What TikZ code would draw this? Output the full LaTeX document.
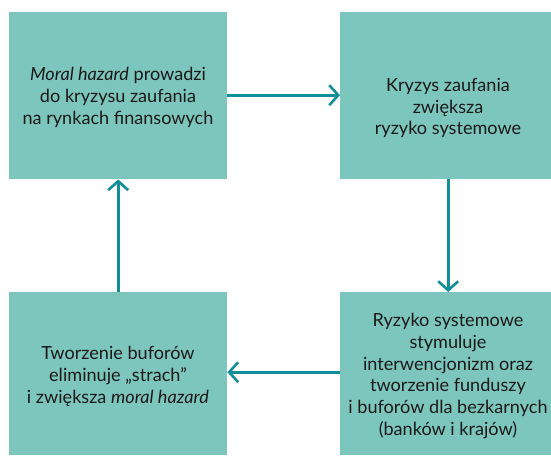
\documentclass[tikz,border=0pt]{standalone}
\usepackage{fontspec}
\setmainfont{Lato}
\usetikzlibrary{arrows.meta}
\definecolor{boxfill}{RGB}{125,198,190}
\definecolor{arrcol}{RGB}{16,142,154}
\begin{document}
\begin{tikzpicture}[x=1pt,y=-1pt,
  box/.style={fill=boxfill,draw=none,inner sep=0pt,anchor=north west},
  txt/.style={align=center,inner sep=0pt,font=\fontsize{18.1}{21.9}\selectfont,text=black!90},
  arr/.style={draw=arrcol,line width=2.6pt,-{Straight Barb[length=9pt,width=20pt,line width=2.6pt]}}]
\useasboundingbox (0,0) rectangle (551,455);
\node[box,minimum width=218pt,minimum height=167pt] (tl) at (9,12) {};
\node[box,minimum width=211pt,minimum height=167pt] (tr) at (340,12) {};
\node[box,minimum width=218pt,minimum height=163pt] (bl) at (9,292) {};
\node[box,minimum width=211pt,minimum height=163pt] (br) at (340,292) {};
\node[txt] (tlt) at (118,97) {\textit{Moral hazard} prowadzi\\do kryzysu zaufania\\na rynkach finansowych};
\node[txt] (trt) at (448,108) {Kryzys zaufania\\zwiększa\\ryzyko systemowe};
\node[txt] (blt) at (118,376) {Tworzenie buforów\\eliminuje „strach”\\i zwiększa \textit{moral hazard}};
\node[txt] (brt) at (448,376) {Ryzyko systemowe\\stymuluje\\interwencjonizm oraz\\tworzenie funduszy\\i buforów dla bezkarnych\\(banków i krajów)};
\draw[arr] ([yshift=0.5]tl.east) -- ([yshift=0.5]tr.west);
\draw[arr] ([xshift=2.5]tr.south) -- ([xshift=2.5]br.north);
\draw[arr] ([yshift=1.5]br.west) -- ([yshift=1.5]bl.east);
\draw[arr] (bl.north) -- (tl.south);
\end{tikzpicture}
\end{document}
